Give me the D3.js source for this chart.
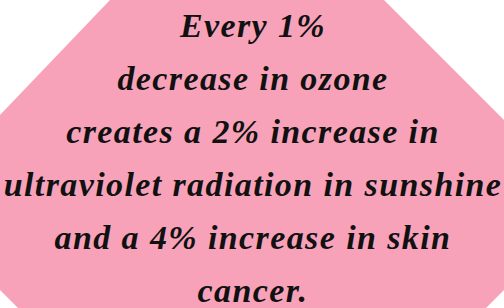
<!DOCTYPE html>
<html>
<head>
<meta charset="utf-8">
<script src="https://cdn.jsdelivr.net/npm/d3@7"></script>
<style>
  body { margin: 0; background: #fff; }
  svg { display: block; }
</style>
</head>
<body>
<script>
// text lines of the card
var lines = [
    "Every 1%",
    "decrease in ozone",
    "creates a 2% increase in",
    "ultraviolet radiation in sunshine",
    "and a 4% increase in skin",
    "cancer."
];

var width = 504,
    height = 308;

var svg = d3.select("body")
    .append("svg")
    .attr("width", width)
    .attr("height", height);

// octagon outline (clipped corners)
var octagon = [
    [110, 0], [384, 0], [504, 120], [504, 290],
    [486, 308], [18, 308], [0, 290], [0, 115]
];

svg.append("path")
    .attr("d", d3.line()(octagon) + "Z")
    .attr("fill", "#f8a2b9");

// baseline of each row
var y = d3.scalePoint()
    .domain(d3.range(lines.length))
    .range([37, 302]);

svg.selectAll(".line")
    .data(lines)
    .enter()
    .append("text")
    .attr("class", "line")
    .attr("x", width / 2 + 1)
    .attr("y", function(d, i){ return y(i); })
    .attr("text-anchor", "middle")
    .attr("font-family", "'Liberation Serif', 'DejaVu Serif', serif")
    .attr("font-weight", "bold")
    .attr("font-style", "italic")
    .attr("font-size", 34)
    .attr("letter-spacing", 1.4)
    .attr("fill", "#111")
    .text(function(d){ return d; });
</script>
</body>
</html>
